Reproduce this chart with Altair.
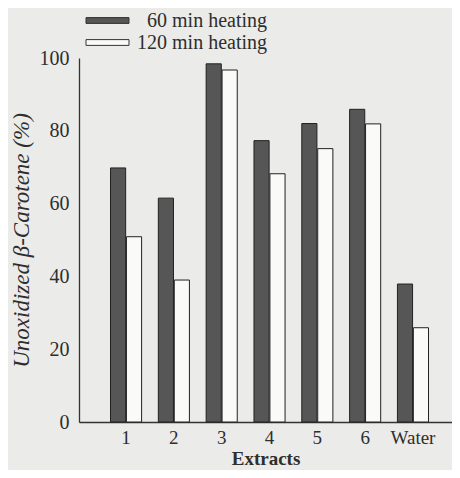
import altair as alt
import pandas as pd

categories = ["1", "2", "3", "4", "5", "6", "Water"]
heat_60 = [69.8, 61.5, 98.4, 77.3, 82.0, 85.9, 37.9]
heat_120 = [50.9, 39.0, 96.7, 68.2, 75.1, 81.9, 25.9]
series = ["60 min heating", "120 min heating"]

rows = []
for c, a, b in zip(categories, heat_60, heat_120):
    rows.append({"cat": c, "series": series[0], "value": a})
    rows.append({"cat": c, "series": series[1], "value": b})
df = pd.DataFrame(rows)

FONT = "Liberation Serif"
TXT = "#2e2e2e"

rect_path = "M-2,-0.27H2V0.27H-2Z"

chart = alt.Chart(df).mark_bar(stroke="#222222", strokeWidth=1).encode(
    x=alt.X("cat:N", sort=categories,
            scale=alt.Scale(paddingInner=0.35, paddingOuter=0.575, align=0.573),
            axis=alt.Axis(title="Extracts", labelAngle=0, ticks=False,
                          labelFont=FONT, labelFontSize=19, labelColor=TXT,
                          labelPadding=6, titleFont=FONT, titleFontSize=19,
                          titleFontWeight="bold", titleColor=TXT,
                          titleY=27, titleBaseline="top",
                          domainColor="#333333", domainWidth=1.3)),
    xOffset=alt.XOffset("series:N", sort=series,
                        scale=alt.Scale(paddingInner=0.05)),
    y=alt.Y("value:Q", scale=alt.Scale(domain=[0, 100]),
            axis=alt.Axis(title="Unoxidized β-Carotene (%)", values=[0, 20, 40, 60, 80, 100],
                          grid=False, tickSize=0,
                          labelFont=FONT, labelFontSize=20, labelColor=TXT, labelPadding=10,
                          titleFont=FONT, titleFontSize=23, titleFontStyle="italic",
                          titleFontWeight="normal",
                          titleColor=TXT, titleX=-58, titleY=182, titleBaseline="middle",
                          domainColor="#333333", domainWidth=1.3)),
    color=alt.Color("series:N", sort=series,
                    scale=alt.Scale(domain=series, range=["#565656", "#fafaf8"]),
                    legend=alt.Legend(title=None, orient="none", legendX=17, legendY=-49,
                                      symbolType=rect_path, symbolSize=462,
                                      symbolStrokeColor="#333333", symbolStrokeWidth=1,
                                      labelFont=FONT, labelFontSize=20, labelColor=TXT,
                                      labelAlign="right", labelOffset=148, rowPadding=0,
                                      padding=0)),
).properties(
    width=373, height=364,
    autosize=alt.AutoSizeParams(type="none"),
    padding={"left": 71, "top": 50, "right": 0, "bottom": 48},
    background="#ebebe9",
).configure_view(stroke=None)

chart.save("out.html", embed_options={"renderer": "svg", "actions": False})
